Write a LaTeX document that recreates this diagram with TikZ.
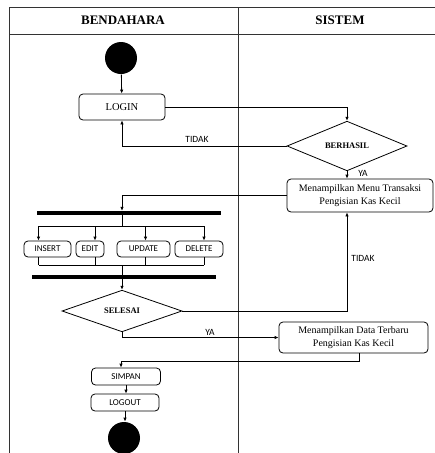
\documentclass[tikz,border=0pt]{standalone}
\usepackage{fontspec}
\setmainfont{Liberation Serif}
\newfontfamily\lblfont{Carlito}
\usetikzlibrary{arrows.meta,shapes.geometric}

\begin{document}
\begin{tikzpicture}[x=1pt,y=-1pt,line width=0.8pt,>={Latex[length=4pt,width=3.5pt]},
  lane/.style={line width=1pt,black!80},
  act/.style={draw,rounded corners=4pt,align=center,inner sep=0pt,line width=0.8pt},
  small/.style={act,font=\lblfont\fontsize{9}{10}\selectfont,minimum height=16},
  cond/.style={draw,diamond,inner sep=0pt,minimum width=120,minimum height=38,line width=0.8pt,font=\bfseries\fontsize{8.5}{10}\selectfont},
  bar/.style={fill=black,inner sep=0pt,minimum height=3.5,minimum width=184},
  dot/.style={circle,fill=black,inner sep=0pt,minimum size=32},
  lbl/.style={font=\lblfont\fontsize{9.5}{10}\selectfont,inner sep=1pt}]
\useasboundingbox (0,0) rectangle (435,453);
\draw[lane] (9,453) -- (9,7) -- (435,7);
\draw[lane] (9,34) -- (435,34);
\draw[lane] (238,7) -- (238,453);
\node[font=\bfseries\fontsize{13}{15}\selectfont] (bendahara) at (123,20) {BENDAHARA};
\node[font=\bfseries\fontsize{13}{15}\selectfont] (sistem) at (340,20) {SISTEM};

\node[dot] (start) at (121,58) {};
\node[act,minimum width=86,minimum height=26,font=\fontsize{10.5}{12}\selectfont] (login) at (122,107) {LOGIN};
\node[cond] (berhasil) at (347,146) {BERHASIL};
\node[act,minimum width=146,minimum height=33,font=\fontsize{10}{13}\selectfont] (menu) at (360,195.5) {Menampilkan Menu Transaksi\\Pengisian Kas Kecil};
\node[bar] (bar1) at (129,213) {};
\node[small,minimum width=47] (ins) at (47.5,249) {INSERT};
\node[small,minimum width=28] (edt) at (90,249) {EDIT};
\node[small,minimum width=53] (upd) at (143.5,249) {UPDATE};
\node[small,minimum width=48] (del) at (199,249) {DELETE};
\node[bar] (bar2) at (124,277) {};
\node[cond] (selesai) at (122,311) {SELESAI};
\node[act,minimum width=149,minimum height=31,font=\fontsize{10}{13}\selectfont] (data) at (353.5,337.5) {Menampilkan Data Terbaru\\Pengisian Kas Kecil};
\node[small,minimum width=69,minimum height=17] (simpan) at (126,376.5) {SIMPAN};
\node[small,minimum width=68,minimum height=17] (logout) at (125,402.5) {LOGOUT};
\node[dot] (end) at (124,438) {};

\node[lbl] (tidak1) at (197,139) {TIDAK};
\node[lbl] (ya1) at (363,173) {YA};
\node[lbl] (tidak2) at (363,258) {TIDAK};
\node[lbl] (ya2) at (210,332) {YA};

\coordinate (fork) at (122,226);
\coordinate (join) at (122,265);
\coordinate (back) at (359,361);

\draw[->] (start) -- (login);
\draw[->] (login.east) -| (berhasil.north);
\draw[->] (berhasil.west) -| (login.south);
\draw[->] (berhasil.south) -- (berhasil.south |- menu.north);
\draw[->] (menu.west) -| (bar1.north -| fork);
\draw (bar1.south -| fork) -- (fork);
\foreach \n/\s in {ins/-9,edt/5,upd/2,del/5}{
  \coordinate (\n-t) at ([xshift=\s pt]\n.north);
  \coordinate (\n-b) at ([xshift=\s pt]\n.south);
  \draw[->] (\n-t |- fork) -- (\n-t);
  \draw (\n-b) -- (\n-b |- join);
}
\draw (ins-t |- fork) -- (del-t |- fork);
\draw (ins-b |- join) -- (del-b |- join);
\draw (join) -- (bar2.north -| join);
\draw[->] (bar2.south -| selesai) -- (selesai.north);
\draw[->] (selesai.east) -| (menu.south -| berhasil);
\draw[->] (selesai.south) |- (data.west);
\draw[->] (data.south -| back) -- (back) -| (simpan.north -| start);
\draw[->] (simpan.south) -- (simpan.south |- logout.north);
\draw[->] (logout.south) -- (logout.south |- end.north);
\end{tikzpicture}
\end{document}
